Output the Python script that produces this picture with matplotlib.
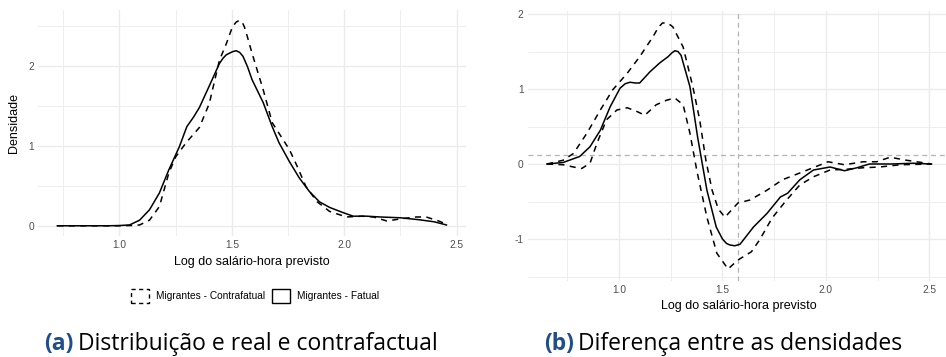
import matplotlib
matplotlib.use("Agg")
import matplotlib.pyplot as plt
from matplotlib.patches import Patch
from matplotlib.ticker import MultipleLocator

# ---- Panel (a): densities of predicted log hourly wage ----
x_fatual = [0.724, 0.85, 0.95, 1.00, 1.045, 1.09, 1.134, 1.178, 1.22, 1.267, 1.30, 1.33,
            1.356, 1.40, 1.445, 1.462, 1.476, 1.49, 1.505, 1.52, 1.535, 1.55, 1.57, 1.59,
            1.64, 1.68, 1.71, 1.757, 1.80, 1.845, 1.89, 1.935, 1.99, 2.04, 2.10, 2.16,
            2.25, 2.335, 2.40, 2.455]
y_fatual = [0, 0, 0, 0.003, 0.01, 0.07, 0.20, 0.41, 0.70, 0.99, 1.24, 1.36,
            1.48, 1.75, 2.03, 2.10, 2.14, 2.16, 2.18, 2.19, 2.17, 2.12, 1.99, 1.83,
            1.54, 1.24, 1.04, 0.80, 0.60, 0.43, 0.30, 0.23, 0.17, 0.12, 0.12, 0.11,
            0.10, 0.075, 0.05, 0.01]

x_contra = [0.724, 0.85, 0.95, 1.00, 1.05, 1.09, 1.134, 1.178, 1.22, 1.25, 1.297, 1.356,
            1.40, 1.445, 1.476, 1.503, 1.52, 1.534, 1.546, 1.556, 1.57, 1.59, 1.64, 1.68,
            1.73, 1.757, 1.79, 1.83, 1.88, 1.935, 2.01, 2.08, 2.13, 2.19, 2.26, 2.32,
            2.365, 2.42, 2.455]
y_contra = [0, 0, 0, 0, 0.003, 0.01, 0.07, 0.24, 0.66, 0.86, 1.04, 1.23,
            1.53, 2.07, 2.28, 2.49, 2.55, 2.57, 2.55, 2.49, 2.36, 2.16, 1.70, 1.29,
            1.07, 0.95, 0.75, 0.49, 0.30, 0.18, 0.11, 0.12, 0.11, 0.06, 0.09, 0.11,
            0.11, 0.06, 0.02]

# ---- Panel (b): difference between densities with confidence band ----
x_diff = [0.652, 0.73, 0.81, 0.86, 0.91, 0.957, 1.005, 1.03, 1.053, 1.08, 1.10, 1.15,
          1.198, 1.237, 1.255, 1.27, 1.285, 1.30, 1.343, 1.38, 1.425, 1.47, 1.50, 1.52,
          1.536, 1.56, 1.585, 1.65, 1.715, 1.78, 1.815, 1.874, 1.94, 2.02, 2.09, 2.15,
          2.21, 2.32, 2.42, 2.51]
y_diff = [0, 0.02, 0.10, 0.23, 0.45, 0.76, 1.01, 1.07, 1.09, 1.08, 1.08, 1.23,
          1.35, 1.43, 1.48, 1.51, 1.50, 1.45, 1.03, 0.36, -0.35, -0.84, -1.00, -1.06,
          -1.08, -1.09, -1.07, -0.84, -0.66, -0.44, -0.39, -0.21, -0.08, -0.04, -0.09, -0.05,
          0.0, 0.0, 0.01, 0]

x_upper = [0.652, 0.73, 0.78, 0.845, 0.91, 0.97, 1.04, 1.10, 1.165, 1.19, 1.21, 1.235,
           1.26, 1.31, 1.357, 1.39, 1.42, 1.45, 1.48, 1.512, 1.575, 1.633, 1.715, 1.79,
           1.874, 1.956, 2.01, 2.09, 2.18, 2.245, 2.31, 2.39, 2.51]
y_upper = [0, 0.05, 0.14, 0.41, 0.72, 0.99, 1.21, 1.43, 1.70, 1.82, 1.88, 1.88,
           1.83, 1.56, 1.03, 0.59, 0.05, -0.35, -0.60, -0.71, -0.52, -0.48, -0.35, -0.21,
           -0.12, -0.03, 0.03, -0.01, 0.03, 0.03, 0.09, 0.05, 0]

x_lower = [0.652, 0.73, 0.78, 0.82, 0.86, 0.894, 0.94, 0.99, 1.04, 1.087, 1.125, 1.18,
           1.23, 1.27, 1.31, 1.343, 1.377, 1.425, 1.473, 1.527, 1.575, 1.64, 1.68, 1.74,
           1.81, 1.874, 1.94, 2.02, 2.10, 2.18, 2.26, 2.36, 2.51]
y_lower = [0, -0.01, -0.04, -0.06, 0.01, 0.28, 0.59, 0.72, 0.75, 0.70, 0.65, 0.79,
           0.85, 0.88, 0.79, 0.41, -0.10, -0.71, -1.19, -1.40, -1.28, -1.17, -1.01, -0.72,
           -0.48, -0.28, -0.17, -0.08, -0.07, -0.05, -0.04, -0.01, 0]

ref_x = 1.577
ref_y = 0.12

x_ticks = [1.0, 1.5, 2.0, 2.5]
x_tick_labels = ["1.0", "1.5", "2.0", "2.5"]
y_ticks_a = [0, 1, 2]
y_ticks_b = [-1, 0, 1, 2]

label_x = "Log do salário-hora previsto"
label_y = "Densidade"
legend_labels = ["Migrantes - Contrafatual", "Migrantes - Fatual"]
caption_a = ("(a)", "Distribuição e real e contrafactual")
caption_b = ("(b)", "Diferença entre as densidades")

plt.rcParams["font.family"] = ["Liberation Sans", "DejaVu Sans"]

W, H = 946, 357
fig = plt.figure(figsize=(W / 100, H / 100), dpi=100)

GRID = "#ebebeb"
TICK_C = "#4d4d4d"
LW = 1.1
DASH = (4, 3.5)


def style(ax):
    ax.set_facecolor("white")
    for s in ax.spines.values():
        s.set_visible(False)
    ax.xaxis.set_major_locator(MultipleLocator(0.5))
    ax.xaxis.set_minor_locator(MultipleLocator(0.25))
    ax.yaxis.set_major_locator(MultipleLocator(1))
    ax.yaxis.set_minor_locator(MultipleLocator(0.5))
    ax.grid(True, which="major", color=GRID, lw=1.0)
    ax.grid(True, which="minor", color=GRID, lw=0.6)
    ax.set_axisbelow(True)
    ax.tick_params(which="both", length=0, labelsize=7.3, labelcolor=TICK_C, pad=3)


# Panel (a)
axA = fig.add_axes([38 / W, 1 - 236 / H, 428 / W, 226 / H])
style(axA)
axA.plot(x_contra, y_contra, color="black", lw=LW, ls=(0, DASH))
axA.plot(x_fatual, y_fatual, color="black", lw=LW, solid_joinstyle="round")
axA.set_xlim(0.638, 2.542)
axA.set_ylim(-0.128, 2.70)
axA.set_xticks(x_ticks)
axA.set_xticklabels(x_tick_labels)
axA.set_yticks(y_ticks_a)
axA.set_xlabel(label_x, fontsize=9, labelpad=4)
axA.set_ylabel(label_y, fontsize=9, labelpad=6)

handles = [Patch(facecolor="white", edgecolor="black", lw=1.0, ls=(0, (3, 2.5))),
           Patch(facecolor="white", edgecolor="black", lw=1.0)]
axA.legend(handles, legend_labels, loc="center", bbox_to_anchor=(255 / W, 1 - 296 / H),
           bbox_transform=fig.transFigure, ncol=2, frameon=False, fontsize=7.3,
           handlelength=1.8, handleheight=1.7, handletextpad=0.7, columnspacing=0.6)

# Panel (b)
axB = fig.add_axes([527.7 / W, 1 - 281.3 / H, 423 / W, 270.6 / H])
style(axB)
axB.axhline(ref_y, color="#b3b3b3", lw=0.9, ls=(0, (4, 3)))
axB.axvline(ref_x, color="#b3b3b3", lw=0.9, ls=(0, (4, 3)))
axB.plot(x_upper, y_upper, color="black", lw=LW, ls=(0, DASH))
axB.plot(x_lower, y_lower, color="black", lw=LW, ls=(0, DASH))
axB.plot(x_diff, y_diff, color="black", lw=LW, solid_joinstyle="round")
axB.set_xlim(0.559, 2.603)
axB.set_ylim(-1.564, 2.044)
axB.set_xticks(x_ticks)
axB.set_xticklabels(x_tick_labels)
axB.set_yticks(y_ticks_b)
axB.set_yticklabels([str(v) for v in y_ticks_b])
axB.set_xlabel(label_x, fontsize=9, labelpad=3)

# Sub-figure captions
CAP_FONT = ["Open Sans", "DejaVu Sans"]
CAP_SIZE = 16.5
renderer = fig.canvas.get_renderer()


def caption(cx, cy, parts):
    t1 = fig.text(0, cy / H, parts[0], fontsize=CAP_SIZE, family=CAP_FONT,
                  weight="bold", color="#1f4e8a", va="baseline", ha="left",
                  fontstretch="condensed")
    t2 = fig.text(0, cy / H, parts[1], fontsize=CAP_SIZE, family=CAP_FONT,
                  color="black", va="baseline", ha="left")
    w1 = t1.get_window_extent(renderer).width
    w2 = t2.get_window_extent(renderer).width
    gap = 4
    total = w1 + gap + w2
    x0 = cx - total / 2
    t1.set_x(x0 / W)
    t2.set_x((x0 + w1 + gap) / W)


caption(241, H - 350, caption_a)
caption(723, H - 350, caption_b)

fig.savefig("out.png", dpi=100, facecolor="white")
